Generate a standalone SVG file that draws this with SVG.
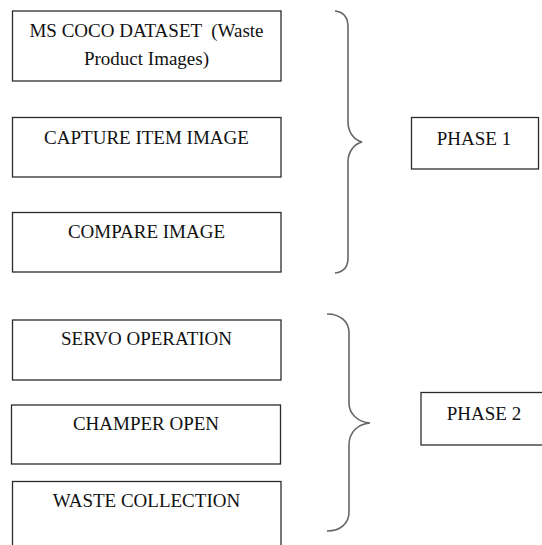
<svg xmlns="http://www.w3.org/2000/svg" width="542" height="545" viewBox="0 0 542 545">
<style>
.box{fill:#fff;stroke:#2b2b2b;stroke-width:1.3}
.t{font-family:"Liberation Serif","Times New Roman",serif;font-size:19px;fill:#111;text-anchor:middle;white-space:pre}
.brace{fill:none;stroke:#666;stroke-width:1.6}
</style>
<rect width="542" height="545" fill="#fff"/>
<g id="n1"><rect class="box" x="12.5" y="11" width="268.5" height="70"/><text class="t" x="146.5" y="37" xml:space="preserve">MS COCO DATASET  (Waste</text><text class="t" x="146.5" y="65">Product Images)</text></g>
<g id="n2"><rect class="box" x="12.5" y="117.5" width="268.5" height="59.5"/><text class="t" x="146.5" y="144">CAPTURE ITEM IMAGE</text></g>
<g id="n3"><rect class="box" x="12.5" y="212.5" width="268.5" height="59.5"/><text class="t" x="146.5" y="237.5">COMPARE IMAGE</text></g>
<g id="n4"><rect class="box" x="12.5" y="320" width="268.5" height="60"/><text class="t" x="146.5" y="345">SERVO OPERATION</text></g>
<g id="n5"><rect class="box" x="11.5" y="405" width="269" height="59"/><text class="t" x="146" y="430">CHAMPER OPEN</text></g>
<g id="n6"><rect class="box" x="12.5" y="481.5" width="268.5" height="75"/><text class="t" x="146.5" y="506.5">WASTE COLLECTION</text></g>
<g id="p1"><rect class="box" x="411.5" y="117.5" width="127" height="51.5"/><text class="t" x="474" y="144.5">PHASE 1</text></g>
<g id="p2"><rect class="box" x="421" y="392.5" width="130" height="52.5"/><text class="t" x="484" y="420">PHASE 2</text></g>
<g id="connectors">
<path class="brace" d="M335,11 C344,12 348,18 348,27 L348,122 C348,132 354,140 362,142 C354,144 348,152 348,162 L348,258 C348,266 344,272 335,273"/>
<path class="brace" d="M327,314 C341,314 349,322 349,333 L349,403 C349,414 358,422 370,423 C358,424 349,432 349,445 L349,512 C349,523 341,531 327,531"/>
</g>
</svg>
